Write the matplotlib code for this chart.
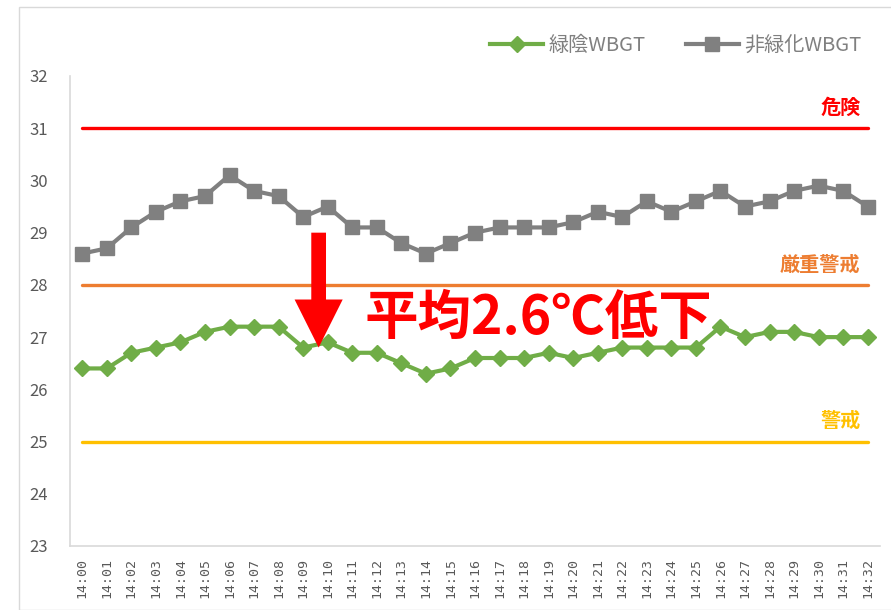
import matplotlib
matplotlib.use("Agg")
import matplotlib.pyplot as plt
from matplotlib.patches import Rectangle, FancyArrow

plt.rcParams['font.family'] = ['Noto Sans CJK JP', 'DejaVu Sans']

times = [f"14:{m:02d}" for m in range(33)]
nonveg = [28.6, 28.7, 29.1, 29.4, 29.6, 29.7, 30.1, 29.8, 29.7, 29.3, 29.5,
          29.1, 29.1, 28.8, 28.6, 28.8, 29.0, 29.1, 29.1, 29.1, 29.2, 29.4,
          29.3, 29.6, 29.4, 29.6, 29.8, 29.5, 29.6, 29.8, 29.9, 29.8, 29.5]
shade = [26.4, 26.4, 26.7, 26.8, 26.9, 27.1, 27.2, 27.2, 27.2, 26.8, 26.9,
         26.7, 26.7, 26.5, 26.3, 26.4, 26.6, 26.6, 26.6, 26.7, 26.6, 26.7,
         26.8, 26.8, 26.8, 26.8, 27.2, 27.0, 27.1, 27.1, 27.0, 27.0, 27.0]
thresholds = [31, 28, 25]
threshold_labels = ["危険", "厳重警戒", "警戒"]
threshold_colors = ["#ff0000", "#ed7d31", "#ffc000"]
series_names = ["緑陰WBGT", "非緑化WBGT"]
annotation = "平均2.6℃低下"

fig = plt.figure(figsize=(8.91, 6.10), dpi=100)
fig.patches.append(Rectangle((19/891, 0), 1, 1 - 7/610, transform=fig.transFigure,
                             fill=False, edgecolor="#d9d9d9", lw=1.0))
ax = fig.add_axes([70/891, 1 - 546/610, 810/891, 470/610])

x = list(range(len(times)))
for val, lab, col in zip(thresholds, threshold_labels, threshold_colors):
    ax.plot([x[0], x[-1]], [val, val], color=col, lw=2.4, solid_capstyle='round', zorder=1)
    ax.text(x[-1] - 0.3, val + 0.2, lab, color=col, fontsize=14.5, fontweight='bold',
            ha='right', va='bottom')

ax.plot(x, shade, color="#70ad47", lw=3, marker='D', markersize=8,
        label=series_names[0], zorder=3)
ax.plot(x, nonveg, color="#808080", lw=3, marker='s', markersize=10,
        label=series_names[1], zorder=3)

# arrow
ax.add_patch(FancyArrow(9.63, 29.0, 0, -2.2, width=0.6, head_width=1.96,
                        head_length=0.92, length_includes_head=True,
                        color="#ff0000", zorder=4, lw=0))
ax.text(11.5, 27.35, annotation, color="#ff0000", fontsize=38.5, fontweight='bold',
        ha='left', va='center', zorder=5)

ax.set_xlim(-0.5, len(times) - 0.5)
ax.set_ylim(23, 32)
ax.set_yticks(range(23, 33))
ax.set_xticks(x)
ax.set_xticklabels(times, rotation=90, family='DejaVu Sans Mono', fontsize=9.5,
                   color="#595959")
ax.tick_params(axis='y', labelsize=12, colors="#595959", length=0, pad=16)
ax.tick_params(axis='x', length=0, pad=9)
for s in ['top', 'right']:
    ax.spines[s].set_visible(False)
for s in ['left', 'bottom']:
    ax.spines[s].set_color("#d9d9d9")
    ax.spines[s].set_linewidth(1.2)

leg = ax.legend(loc='center right', bbox_to_anchor=(1.0, 1.064), ncol=2, frameon=False,
                fontsize=14.5, handlelength=2.6, columnspacing=2.0, handletextpad=0.3)
for t in leg.get_texts():
    t.set_color("#808080")

fig.savefig("out.png", dpi=100)
